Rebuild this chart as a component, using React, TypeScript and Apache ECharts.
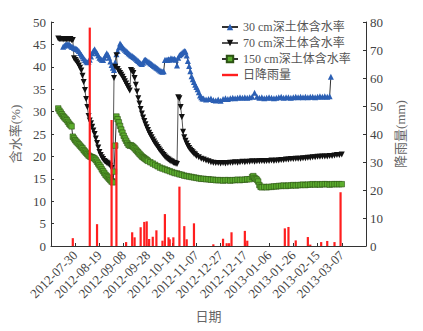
import { useEffect, useRef } from 'react';
import * as echarts from 'echarts';

// x values are day offsets from 2012-07-10
const tickDays = [20, 40, 60, 80, 100, 120, 140, 160, 180, 200, 220, 240];
const tickLabels = [
  '2012-07-30', '2012-08-19', '2012-09-08', '2012-09-28', '2012-10-18', '2012-11-07',
  '2012-12-27', '2012-12-17', '2013-01-06', '2013-01-26', '2013-02-15', '2013-03-07',
];

const seriesNames = ['30 cm深土体含水率', '70 cm深土体含水率', '150 cm深土体含水率', '日降雨量'];

const soil30: [number, number][] = [
  [10, 44.5], [11, 44.7], [12, 44.9], [13, 45.0], [14, 45.1], [15, 45.0], [16, 44.7], [17, 44.5], [18, 44.4], [19, 44.2],
  [20, 44.1], [21, 44.0], [22, 43.8], [23, 43.5], [24, 43.1], [25, 42.7], [26, 42.3], [27, 41.9], [28, 41.5], [29, 41.2],
  [30, 41.0], [31, 41.1], [32, 41.6], [33, 42.3], [34, 43.0], [35, 43.6], [36, 43.9], [37, 43.4], [38, 43.0], [39, 42.5],
  [40, 42.0], [41, 41.8], [42, 41.6], [43, 41.5], [44, 42.0], [45, 42.6], [46, 43.0], [47, 42.7], [48, 42.0], [49, 41.2],
  [50, 40.4], [51, 39.8], [52, 39.3], [53, 41.0], [54, 42.8], [55, 43.5], [56, 44.3], [57, 45.2], [58, 44.8], [59, 44.4],
  [60, 44.1], [61, 43.8], [62, 43.5], [63, 43.3], [64, 43.0], [65, 42.8], [66, 42.6], [67, 42.4], [68, 42.2], [69, 42.0],
  [70, 41.8], [71, 41.5], [72, 41.3], [73, 41.0], [74, 40.8], [75, 40.6], [76, 40.9], [77, 41.5], [78, 41.6], [79, 41.4],
  [80, 41.2], [81, 41.0], [82, 40.8], [83, 40.6], [84, 40.4], [85, 40.2], [86, 40.0], [87, 39.8], [88, 39.6], [89, 39.4],
  [90, 39.2], [91, 39.0], [92, 38.9], [93, 39.0], [94, 41.5], [95, 41.6], [96, 41.5], [97, 41.7], [98, 41.6], [99, 41.9],
  [100, 41.8], [101, 41.7], [102, 41.8], [103, 41.6], [104, 40.3], [105, 42.0], [106, 42.6], [107, 42.8], [108, 43.0], [109, 43.3],
  [110, 43.5], [111, 43.4], [112, 42.5], [113, 41.3], [114, 40.2], [115, 39.0], [116, 37.9], [117, 37.2], [118, 36.6], [119, 36.0],
  [120, 35.5], [121, 35.0], [122, 34.3], [123, 33.6], [124, 33.2], [125, 32.9], [126, 32.9], [128, 32.7], [130, 32.8], [132, 32.9],
  [134, 32.6], [136, 32.5], [138, 32.7], [140, 32.4], [142, 32.8], [144, 33.0], [146, 32.8], [148, 33.0], [150, 33.1], [152, 33.0],
  [154, 33.1], [156, 33.2], [158, 33.1], [160, 33.2], [162, 33.1], [164, 33.2], [166, 33.3], [168, 34.2], [170, 33.3], [172, 33.1],
  [174, 33.2], [176, 33.0], [178, 33.1], [180, 33.2], [182, 33.1], [184, 33.0], [186, 33.1], [188, 33.2], [190, 33.3], [192, 33.1],
  [194, 33.2], [196, 33.2], [198, 33.1], [200, 33.2], [202, 33.3], [204, 33.2], [206, 33.3], [208, 33.2], [210, 33.3], [212, 33.2],
  [214, 33.3], [216, 33.3], [218, 33.2], [220, 33.3], [222, 33.4], [224, 33.3], [226, 33.4], [228, 33.3], [230, 33.4], [231, 37.8],
];

const soil70: [number, number][] = [
  [6, 46.3], [7, 46.2], [8, 46.2], [9, 46.2], [10, 46.1], [11, 46.2], [12, 46.2], [13, 46.1], [14, 46.2], [15, 46.1],
  [16, 46.2], [17, 46.0], [18, 46.0], [19, 41.9], [20, 41.5], [21, 41.2], [22, 40.8], [23, 40.3], [24, 39.8], [25, 39.2],
  [26, 38.0], [27, 36.6], [28, 34.8], [29, 32.8], [30, 31.0], [31, 29.0], [32, 28.0], [33, 27.4], [34, 26.6], [35, 25.8],
  [36, 25.0], [37, 24.0], [38, 23.0], [39, 22.0], [40, 21.0], [41, 20.3], [42, 19.8], [43, 19.4], [44, 19.0], [45, 18.8],
  [46, 18.6], [47, 18.4], [48, 18.2], [49, 17.9], [50, 17.4], [51, 14.4], [52, 37.5], [53, 40.0], [54, 42.6], [55, 39.5],
  [56, 39.0], [57, 38.6], [58, 38.2], [59, 37.8], [60, 37.3], [61, 36.8], [62, 36.3], [63, 35.7], [64, 35.2], [65, 34.7],
  [66, 39.3], [67, 39.0], [68, 38.6], [69, 37.5], [70, 36.0], [71, 34.5], [72, 33.0], [73, 31.8], [74, 30.6], [75, 29.6],
  [76, 28.7], [77, 27.9], [78, 27.2], [79, 26.5], [80, 25.9], [81, 25.3], [82, 24.8], [83, 24.3], [84, 23.8], [85, 23.3],
  [86, 22.9], [87, 22.5], [88, 22.1], [89, 21.7], [90, 21.3], [91, 21.0], [92, 20.6], [93, 20.3], [94, 20.0], [95, 19.7],
  [96, 19.5], [97, 19.3], [98, 19.1], [99, 18.9], [100, 18.8], [101, 18.6], [102, 18.5], [103, 18.4], [104, 18.3], [105, 33.2],
  [106, 33.0], [107, 31.0], [108, 28.8], [109, 25.5], [110, 24.3], [111, 23.5], [112, 22.9], [113, 22.3], [114, 21.9], [115, 21.5],
  [116, 21.2], [117, 20.9], [118, 20.6], [119, 20.4], [120, 20.1], [122, 19.8], [124, 19.5], [126, 19.3], [128, 19.1], [130, 18.9],
  [132, 18.7], [134, 18.6], [136, 18.5], [138, 18.5], [140, 18.4], [142, 18.5], [144, 18.4], [146, 18.5], [148, 18.6], [150, 18.6],
  [152, 18.7], [154, 18.6], [156, 18.7], [158, 18.8], [160, 18.7], [162, 18.8], [164, 18.8], [166, 18.9], [168, 18.8], [170, 18.9],
  [172, 18.9], [174, 19.0], [176, 18.9], [178, 19.0], [180, 19.0], [182, 19.1], [184, 19.0], [186, 19.1], [188, 19.1], [190, 19.2],
  [192, 19.2], [194, 19.3], [196, 19.3], [198, 19.4], [200, 19.4], [202, 19.5], [204, 19.5], [206, 19.5], [208, 19.6], [210, 19.6],
  [212, 19.7], [214, 19.7], [216, 19.8], [218, 19.8], [220, 19.9], [222, 19.9], [224, 20.0], [226, 20.0], [228, 20.0], [230, 20.1],
  [232, 20.1], [234, 20.2], [236, 20.3], [238, 20.3], [240, 20.4],
];

const soil150: [number, number][] = [
  [6, 30.7], [7, 30.2], [8, 29.8], [9, 29.4], [10, 29.0], [11, 28.7], [12, 28.4], [13, 28.1], [14, 27.7], [15, 27.3],
  [16, 27.0], [17, 26.7], [18, 24.4], [19, 24.0], [20, 23.6], [21, 23.3], [22, 23.0], [23, 22.7], [24, 22.4], [25, 22.1],
  [26, 21.8], [27, 21.4], [28, 21.1], [29, 20.8], [30, 20.5], [31, 20.2], [32, 20.0], [33, 19.9], [34, 19.8], [35, 19.7],
  [36, 19.5], [37, 19.2], [38, 18.8], [39, 18.4], [40, 18.0], [41, 17.6], [42, 17.1], [43, 16.7], [44, 16.3], [45, 15.9],
  [46, 15.6], [47, 15.3], [48, 15.0], [49, 14.7], [50, 14.4], [51, 14.2], [52, 16.6], [53, 22.4], [54, 28.9], [55, 28.3],
  [56, 27.6], [57, 26.8], [58, 26.0], [59, 25.3], [60, 24.6], [61, 24.0], [62, 23.5], [63, 23.0], [64, 22.6], [65, 22.4],
  [66, 22.5], [67, 22.3], [68, 22.1], [69, 21.8], [70, 21.5], [71, 21.2], [72, 20.9], [73, 20.6], [74, 20.3], [75, 20.0],
  [76, 19.8], [77, 19.6], [78, 19.4], [79, 19.2], [80, 19.0], [82, 18.7], [84, 18.4], [86, 18.1], [88, 17.8], [90, 17.5],
  [92, 17.3], [94, 17.1], [96, 16.9], [98, 16.7], [100, 16.5], [102, 16.3], [104, 16.2], [106, 16.0], [108, 15.9], [110, 15.7],
  [112, 15.6], [114, 15.5], [116, 15.4], [118, 15.3], [120, 15.2], [122, 15.1], [124, 15.0], [126, 15.0], [128, 14.9], [130, 14.9],
  [132, 14.8], [134, 14.8], [136, 14.7], [138, 14.7], [140, 14.7], [142, 14.6], [144, 14.7], [146, 14.7], [148, 14.6], [150, 14.7],
  [152, 14.7], [154, 14.8], [156, 14.7], [158, 14.8], [160, 14.8], [162, 14.9], [164, 14.9], [166, 15.4], [167, 15.6], [168, 15.2],
  [169, 15.0], [170, 14.8], [171, 14.4], [172, 13.6], [173, 13.2], [174, 13.1], [176, 13.2], [178, 13.1], [180, 13.2], [182, 13.2],
  [184, 13.3], [186, 13.3], [188, 13.4], [190, 13.4], [192, 13.5], [194, 13.4], [196, 13.5], [198, 13.5], [200, 13.6], [202, 13.5],
  [204, 13.6], [206, 13.6], [208, 13.7], [210, 13.6], [212, 13.7], [214, 13.7], [216, 13.8], [218, 13.7], [220, 13.8], [222, 13.7],
  [224, 13.8], [226, 13.8], [228, 13.8], [230, 13.7], [232, 13.8], [234, 13.8], [236, 13.8], [238, 13.8], [240, 13.8],
];

const rainfall: [number, number][] = [
  [18, 2.8], [32, 78], [38, 7.8], [50, 45], [54, 37], [62, 1.4], [67, 4.9], [69, 3.1], [74, 6.7], [77, 8.6],
  [79, 8.8], [81, 2.5], [84, 3.3], [87, 5.6], [92, 1.9], [94, 11.4], [97, 3.1], [98, 2.4], [101, 3.1], [106, 21.2],
  [110, 7.1], [112, 2.4], [118, 8.1], [134, 0.6], [142, 2.6], [145, 1.0], [147, 1.0], [149, 4.9], [160, 5.4], [162, 1.9],
  [193, 6.3], [196, 6.8], [202, 2.0], [212, 3.2], [214, 0.5], [223, 1.4], [228, 1.8], [234, 1.4], [239, 19.2],
];

const FONT = '"Liberation Serif", "Times New Roman", "Noto Sans CJK SC", serif';

export default function App() {
  const ref = useRef<HTMLDivElement>(null);
  useEffect(() => {
    const chart = echarts.init(ref.current!, null, { renderer: 'svg' });
    const axisLine = { show: true, lineStyle: { color: '#333', width: 1 } };
    const axisTick = { show: true, inside: true, length: 3, lineStyle: { color: '#333' } };
    chart.setOption({
      animation: false,
      backgroundColor: '#fff',
      textStyle: { fontFamily: FONT },
      grid: { left: 51, right: 57, top: 22, bottom: 85 },
      legend: {
        orient: 'vertical',
        left: 216,
        top: 16,
        itemGap: 4,
        itemWidth: 16,
        itemHeight: 8,
        textStyle: { fontSize: 12, color: '#555', fontFamily: FONT },
        data: [
          { name: seriesNames[0] },
          { name: seriesNames[1] },
          { name: seriesNames[2] },
          { name: seriesNames[3], icon: 'path://M0 0H20V3H0Z', itemStyle: { color: '#ff1e1e' } },
        ],
      },
      xAxis: {
        type: 'value',
        min: 0,
        max: 260,
        interval: 20,
        name: '日期',
        nameLocation: 'middle',
        nameGap: 64,
        nameTextStyle: { fontSize: 13, color: '#666', fontFamily: FONT },
        axisLine,
        axisTick,
        splitLine: { show: false },
        axisLabel: {
          rotate: 45,
          fontSize: 13,
          color: '#444',
          margin: 7,
          fontFamily: FONT,
          formatter: (v: number) => {
            const i = tickDays.indexOf(v);
            return i >= 0 ? tickLabels[i] : '';
          },
        },
      },
      yAxis: [
        {
          type: 'value',
          min: 0,
          max: 50,
          interval: 5,
          name: '含水率(%)',
          nameLocation: 'middle',
          nameRotate: 90,
          nameGap: 19,
          nameTextStyle: { fontSize: 13, color: '#666', fontFamily: FONT },
          axisLine,
          axisTick,
          splitLine: { show: false },
          axisLabel: { fontSize: 13, color: '#444', margin: 5, fontFamily: FONT },
        },
        {
          type: 'value',
          position: 'right',
          min: 0,
          max: 80,
          interval: 10,
          name: '降雨量(mm)',
          nameLocation: 'middle',
          nameRotate: 90,
          nameGap: 15,
          nameTextStyle: { fontSize: 13, color: '#666', fontFamily: FONT },
          axisLine,
          axisTick,
          splitLine: { show: false },
          axisLabel: { fontSize: 13, color: '#444', margin: 4, fontFamily: FONT },
        },
      ],
      series: [
        {
          name: seriesNames[0],
          type: 'line',
          data: soil30,
          symbol: 'triangle',
          symbolSize: 6,
          lineStyle: { color: '#333', width: 1 },
          itemStyle: { color: '#2b5fb4' },
          z: 3,
        },
        {
          name: seriesNames[1],
          type: 'line',
          data: soil70,
          symbol: 'triangle',
          symbolRotate: 180,
          symbolSize: 6,
          lineStyle: { color: '#555', width: 1 },
          itemStyle: { color: '#111' },
          z: 3,
        },
        {
          name: seriesNames[2],
          type: 'line',
          data: soil150,
          symbol: 'rect',
          symbolSize: 5.5,
          lineStyle: { color: '#333', width: 1 },
          itemStyle: { color: '#5cae2e', borderColor: '#2c5214', borderWidth: 0.6 },
          z: 3,
        },
        {
          name: seriesNames[3],
          type: 'bar',
          yAxisIndex: 1,
          data: rainfall,
          barWidth: 2.2,
          itemStyle: { color: '#ff1e1e' },
          z: 4,
        },
      ],
    });
    return () => chart.dispose();
  }, []);
  return (
    <div
      ref={ref}
      style={{ position: 'absolute', left: 0, top: 0, width: 423, height: 331, background: '#fff' }}
    />
  );
}
